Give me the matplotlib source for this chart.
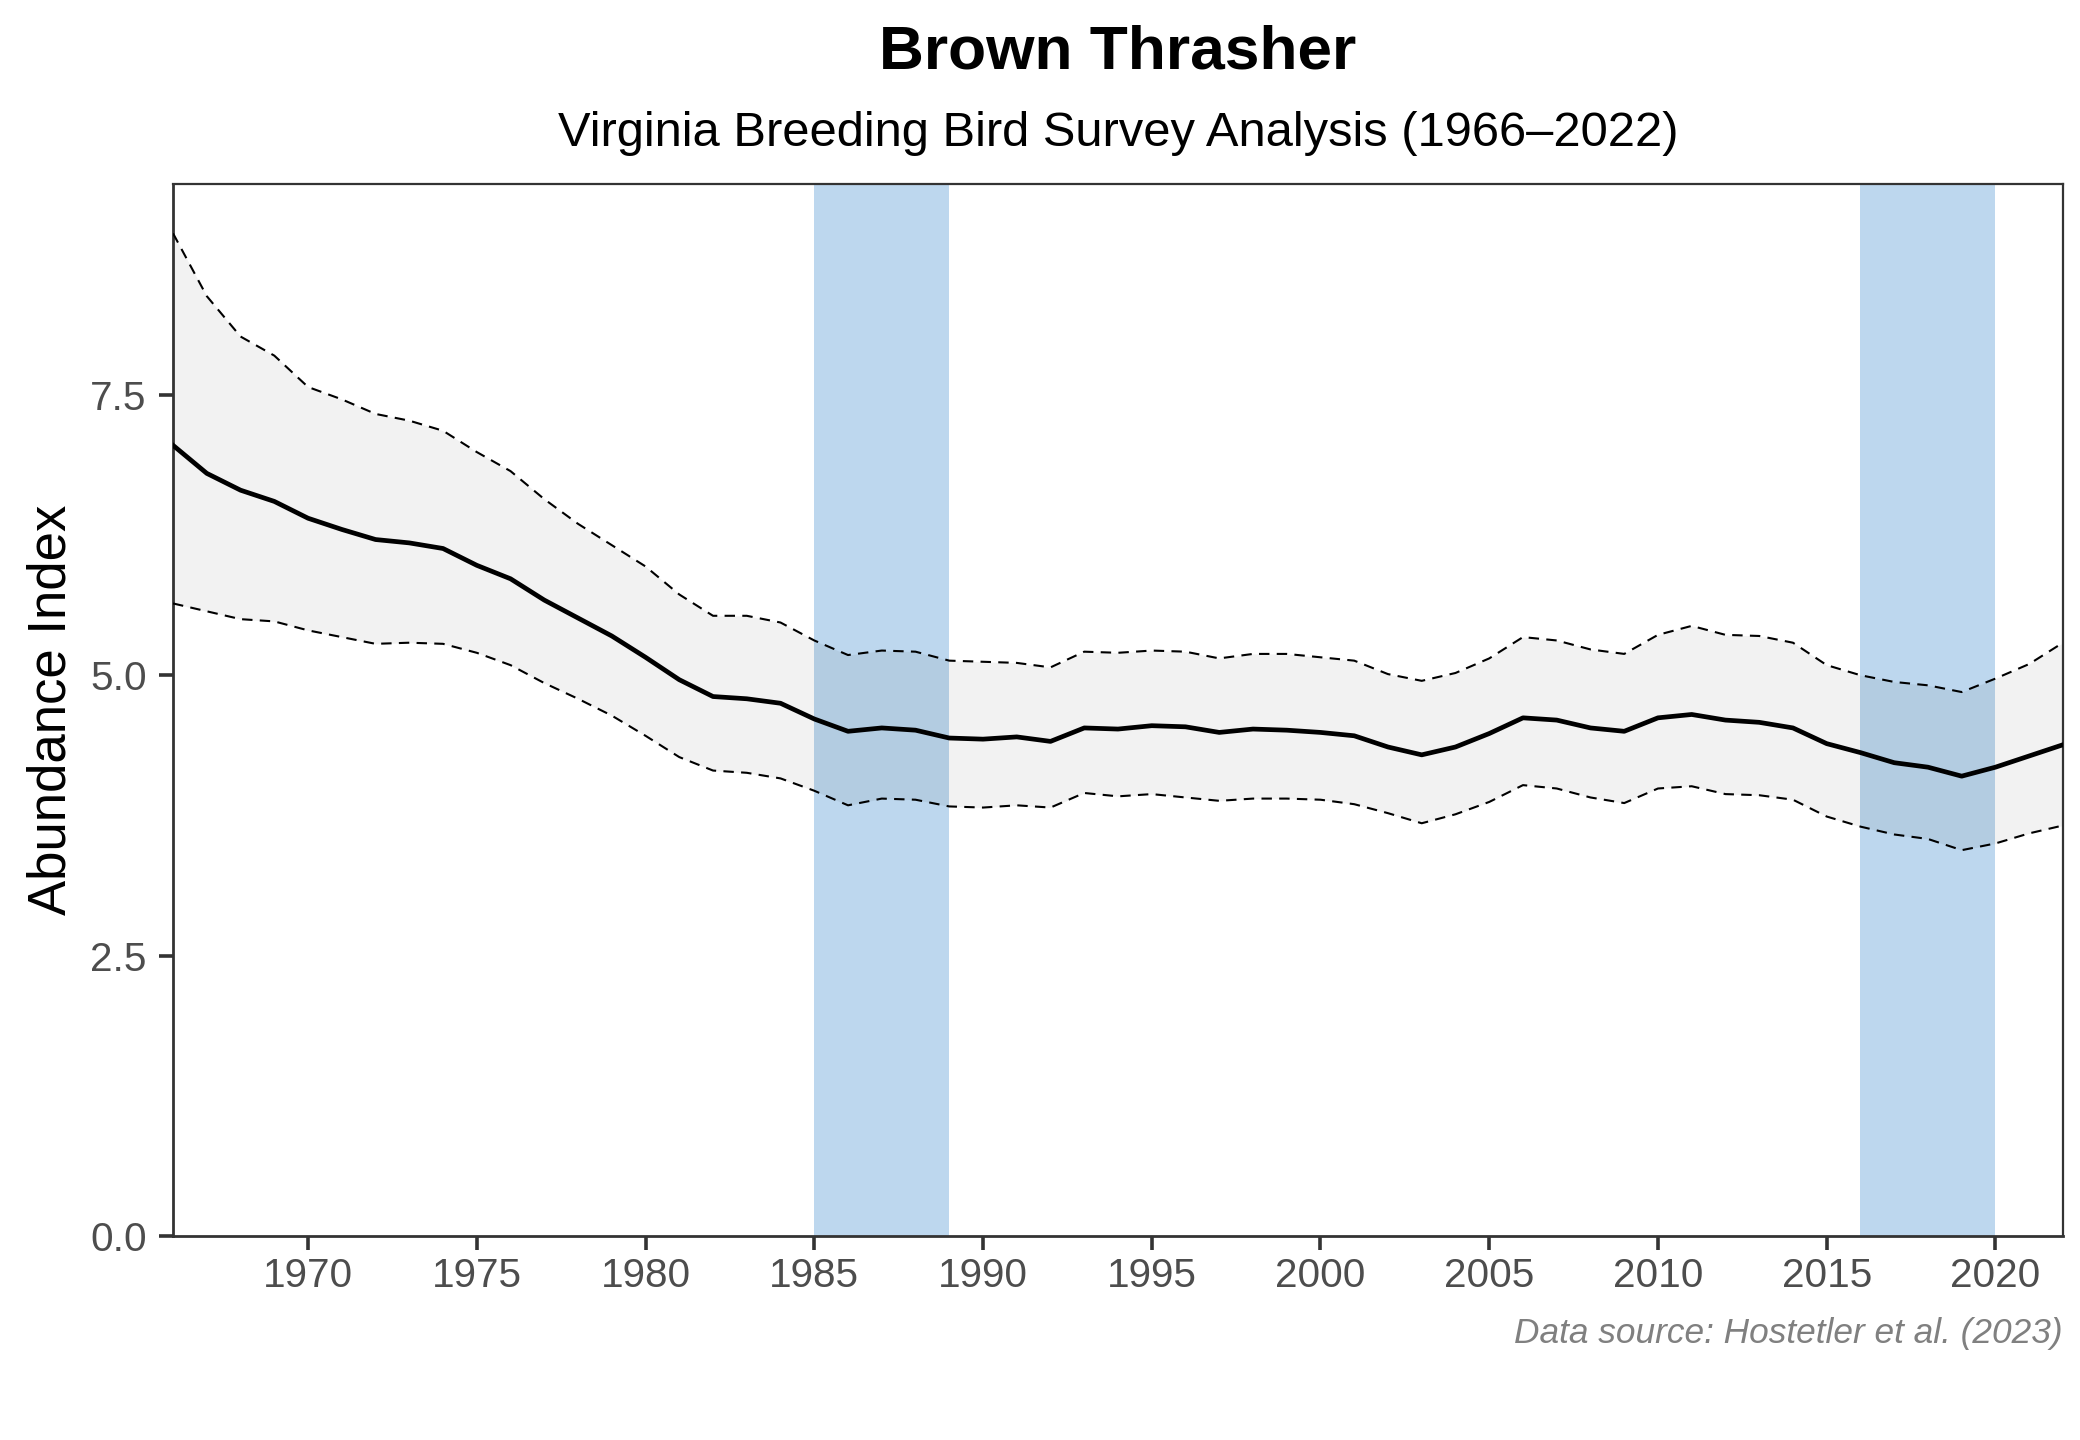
import matplotlib
matplotlib.use("Agg")
import matplotlib.pyplot as plt
import numpy as np

plt.rcParams['font.family'] = ['Liberation Sans', 'DejaVu Sans']

years = list(range(1966, 2023))
index = [7.05, 6.80, 6.65, 6.55, 6.40, 6.30, 6.21, 6.18, 6.13, 5.98,
         5.86, 5.67, 5.51, 5.35, 5.16, 4.96, 4.81, 4.79, 4.75, 4.61,
         4.50, 4.53, 4.51, 4.44, 4.43, 4.45, 4.41, 4.53, 4.52, 4.55,
         4.54, 4.49, 4.52, 4.51, 4.49, 4.46, 4.36, 4.29, 4.36, 4.48,
         4.62, 4.60, 4.53, 4.50, 4.62, 4.65, 4.60, 4.58, 4.53, 4.39,
         4.31, 4.22, 4.18, 4.10, 4.18, 4.28, 4.38]
upper = [8.94, 8.38, 8.02, 7.85, 7.57, 7.46, 7.33, 7.27, 7.18, 6.99,
         6.82, 6.57, 6.35, 6.16, 5.97, 5.72, 5.53, 5.53, 5.47, 5.31,
         5.18, 5.22, 5.21, 5.13, 5.12, 5.11, 5.07, 5.21, 5.20, 5.22,
         5.21, 5.15, 5.19, 5.19, 5.16, 5.13, 5.01, 4.95, 5.02, 5.15,
         5.34, 5.31, 5.23, 5.19, 5.36, 5.44, 5.36, 5.35, 5.29, 5.09,
         5.00, 4.94, 4.91, 4.85, 4.97, 5.10, 5.29]
lower = [5.64, 5.57, 5.50, 5.48, 5.40, 5.34, 5.28, 5.29, 5.28, 5.20,
         5.09, 4.93, 4.79, 4.64, 4.46, 4.27, 4.15, 4.13, 4.08, 3.97,
         3.84, 3.90, 3.89, 3.83, 3.82, 3.84, 3.82, 3.95, 3.92, 3.94,
         3.91, 3.88, 3.90, 3.90, 3.89, 3.85, 3.77, 3.68, 3.76, 3.87,
         4.02, 3.99, 3.91, 3.86, 3.99, 4.01, 3.94, 3.93, 3.89, 3.74,
         3.65, 3.58, 3.54, 3.44, 3.50, 3.59, 3.66]
periods = [(1985, 1989), (2016, 2020)]
x_ticks = [1970, 1975, 1980, 1985, 1990, 1995, 2000, 2005, 2010, 2015, 2020]
y_ticks = [0.0, 2.5, 5.0, 7.5]

title = "Brown Thrasher"
subtitle = "Virginia Breeding Bird Survey Analysis (1966\u20132022)"
ylabel = "Abundance Index"
caption = "Data source: Hostetler et al. (2023)"

fig = plt.figure(figsize=(10.4, 7.2), dpi=200)
ax = fig.add_axes([0.0832, 0.1417, 0.9918 - 0.0832, 0.8722 - 0.1417])

for a, b in periods:
    ax.axvspan(a, b, color='#BDD7EE', lw=0, zorder=1)
ax.fill_between(years, lower, upper, color='black', alpha=0.05, lw=0, zorder=2)
ax.plot(years, upper, color='black', lw=0.75, ls=(0, (5, 3.5)), zorder=3)
ax.plot(years, lower, color='black', lw=0.75, ls=(0, (5, 3.5)), zorder=3)
ax.plot(years, index, color='black', lw=1.7, zorder=4)

ax.set_xlim(1966, 2022)
ax.set_ylim(0, 9.38)
ax.set_xticks(x_ticks)
ax.set_yticks(y_ticks)
ax.set_yticklabels([f"{v:.1f}" for v in y_ticks])
ax.tick_params(axis='both', labelsize=14.6, labelcolor='#4D4D4D', color='#333333',
               length=5, width=1.3)
ax.tick_params(axis='x', pad=2.5)
ax.tick_params(axis='y', pad=4.5)
for s in ['top', 'right']:
    ax.spines[s].set_color('#333333')
    ax.spines[s].set_linewidth(0.8)
for s in ['left', 'bottom']:
    ax.spines[s].set_color('#333333')
    ax.spines[s].set_linewidth(1.0)
ax.set_ylabel(ylabel, fontsize=19, color='black', labelpad=5)

cx = 0.0832 + (0.9918 - 0.0832) / 2
fig.text(cx, 0.963, title, ha='center', va='center', fontsize=22.4, fontweight='bold')
fig.text(cx, 0.907, subtitle, ha='center', va='center', fontsize=17.6)
fig.text(0.9918, 0.074, caption, ha='right', va='center', fontsize=12.7,
         style='italic', color='#808080')

fig.savefig("out.png", dpi=200)
